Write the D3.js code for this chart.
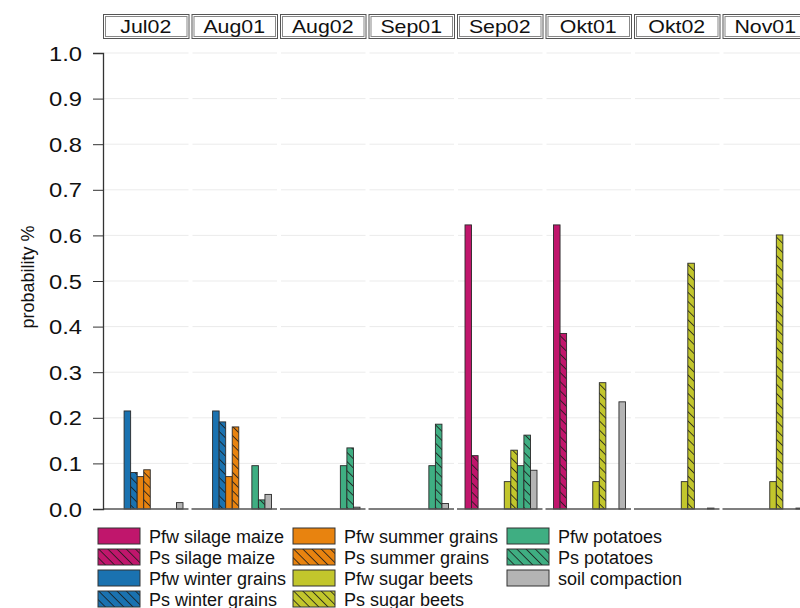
<!DOCTYPE html>
<html>
<head>
<meta charset="utf-8">
<script src="https://cdn.jsdelivr.net/npm/d3@7"></script>
<style>
  body { margin: 0; background: #fff; }
  text { font-family: Arial, "Liberation Sans", sans-serif; }
</style>
</head>
<body>
<svg id="chart" width="800" height="608"></svg>
<script>
// facets (time steps)
const periods = ["Jul02", "Aug01", "Aug02", "Sep01", "Sep02", "Okt01", "Okt02", "Nov01"];

// series in bar order within each facet
const seriesNames = [
  "Pfw silage maize", "Ps silage maize",
  "Pfw winter grains", "Ps winter grains",
  "Pfw summer grains", "Ps summer grains",
  "Pfw sugar beets", "Ps sugar beets",
  "Pfw potatoes", "Ps potatoes",
  "soil compaction"
];
const seriesColors = [
  "#c0166c", "#c0166c",
  "#1a72b0", "#1a72b0",
  "#e8830f", "#e8830f",
  "#c2c62c", "#c2c62c",
  "#3fae82", "#3fae82",
  "#b4b4b4"
];
const seriesHatched = [false, true, false, true, false, true, false, true, false, true, false];

// values per period, one row per facet, columns follow seriesNames
const values = [
  [0, 0, 0.215, 0.080, 0.071, 0.086, 0, 0, 0, 0, 0.014],
  [0, 0, 0.215, 0.191, 0.071, 0.180, 0, 0, 0.095, 0.020, 0.032],
  [0, 0, 0, 0, 0, 0, 0, 0, 0.095, 0.134, 0.004],
  [0, 0, 0, 0, 0, 0, 0, 0, 0.095, 0.186, 0.012],
  [0.623, 0.117, 0, 0, 0, 0, 0.060, 0.129, 0.095, 0.162, 0.085],
  [0.623, 0.385, 0, 0, 0, 0, 0.060, 0.277, 0, 0, 0.235],
  [0, 0, 0, 0, 0, 0, 0.060, 0.539, 0, 0, 0.002],
  [0, 0, 0, 0, 0, 0, 0.060, 0.601, 0, 0, 0.002]
];

const yTicks = [0, 0.1, 0.2, 0.3, 0.4, 0.5, 0.6, 0.7, 0.8, 0.9, 1.0];

const svg = d3.select("#chart");

const plotLeft = 103, plotTop = 53, plotBottom = 509;
const facetStep = 88.5, facetGap = 3;
const stretch = 1.22; // the original text is drawn a bit wide

const y = d3.scaleLinear().domain([0, 1]).range([plotBottom, plotTop]);
const fx = d3.scaleBand().domain(periods).range([plotLeft, plotLeft + facetStep * periods.length]).paddingInner(0);
const x = d3.scaleBand().domain(seriesNames).range([8, facetStep - 8.5]).padding(0);

// hatch patterns
const defs = svg.append("defs");
seriesColors.forEach((c, i) => {
  if (!seriesHatched[i]) return;
  const p = defs.append("pattern")
    .attr("id", "hatch" + i)
    .attr("patternUnits", "userSpaceOnUse")
    .attr("width", 6.5).attr("height", 6.5)
    .attr("patternTransform", "rotate(-45)");
  p.append("rect").attr("width", 6.5).attr("height", 6.5).attr("fill", c);
  p.append("line").attr("x1", 0).attr("y1", 0).attr("x2", 0).attr("y2", 6.5)
    .attr("stroke", "#1a1a1a").attr("stroke-width", 1.6);
});
const fillOf = i => seriesHatched[i] ? `url(#hatch${i})` : seriesColors[i];

// facets
const facet = svg.selectAll("g.facet")
  .data(periods)
  .enter().append("g")
  .attr("class", "facet")
  .attr("transform", d => `translate(${fx(d)},0)`);

// grid lines
facet.each(function () {
  d3.select(this).selectAll("line.grid")
    .data(yTicks.slice(1))
    .enter().append("line")
    .attr("x1", 1).attr("x2", facetStep - facetGap)
    .attr("y1", d => y(d)).attr("y2", d => y(d))
    .attr("stroke", "#ebebeb").attr("stroke-width", 1);
});

// strip headers
facet.append("rect")
  .attr("x", 0.5).attr("y", 14.5)
  .attr("width", facetStep - facetGap).attr("height", 24)
  .attr("fill", "#fff").attr("stroke", "#555").attr("stroke-width", 1);
facet.append("rect")
  .attr("x", 2.5).attr("y", 16.5)
  .attr("width", facetStep - facetGap - 4).attr("height", 20)
  .attr("fill", "none").attr("stroke", "#888").attr("stroke-width", 1);
facet.append("text")
  .attr("transform", `translate(${(facetStep - facetGap) / 2},33) scale(${stretch},1)`)
  .attr("text-anchor", "middle")
  .attr("font-size", 17.5).attr("fill", "#111")
  .text(d => d);

// bars
facet.each(function (period, pi) {
  const g = d3.select(this);
  g.selectAll("rect.bar")
    .data(values[pi].map((v, si) => ({ v, si })).filter(d => d.v > 0))
    .enter().append("rect")
    .attr("class", "bar")
    .attr("x", d => x(seriesNames[d.si]))
    .attr("width", x.bandwidth())
    .attr("y", d => y(d.v))
    .attr("height", d => y(0) - y(d.v))
    .attr("fill", d => fillOf(d.si))
    .attr("stroke", "#2a2a2a").attr("stroke-width", 0.9);
});

// baseline per facet
facet.append("line")
  .attr("x1", 0).attr("x2", facetStep - facetGap)
  .attr("y1", plotBottom).attr("y2", plotBottom)
  .attr("stroke", "#555").attr("stroke-width", 1.5);

// y axis
const yAxis = d3.axisLeft(y).tickValues(yTicks).tickFormat(d3.format(".1f")).tickSize(10).tickPadding(0);
const ag = svg.append("g").attr("transform", `translate(${plotLeft},0)`).call(yAxis);
ag.select(".domain").attr("stroke", "#333").attr("stroke-width", 1.3);
ag.selectAll(".tick line").attr("stroke", "#333");
ag.selectAll(".tick text")
  .attr("x", null).attr("dy", null)
  .attr("transform", `translate(-21,7) scale(${stretch},1)`)
  .attr("font-size", 19.5).attr("fill", "#111")
  .attr("font-family", "Arial, 'Liberation Sans', sans-serif");

svg.append("text")
  .attr("transform", `translate(34,${(plotTop + plotBottom) / 2 - 4}) rotate(-90)`)
  .attr("text-anchor", "middle")
  .attr("font-size", 18).attr("fill", "#111")
  .text("probability  %");

// legend
const legendCols = [98, 293, 507];
const legendRowY = [528, 549, 570, 591];
const legend = svg.append("g");
seriesNames.forEach((name, si) => {
  const col = Math.floor(si / 4), row = si % 4;
  const lg = legend.append("g").attr("transform", `translate(${legendCols[col]},${legendRowY[row]})`);
  lg.append("rect").attr("width", 42).attr("height", 16)
    .attr("fill", fillOf(si)).attr("stroke", "#333").attr("stroke-width", 1);
  lg.append("text").attr("x", 51).attr("y", 14.5)
    .attr("font-size", 18).attr("fill", "#111")
    .text(name);
});
</script>
</body>
</html>
